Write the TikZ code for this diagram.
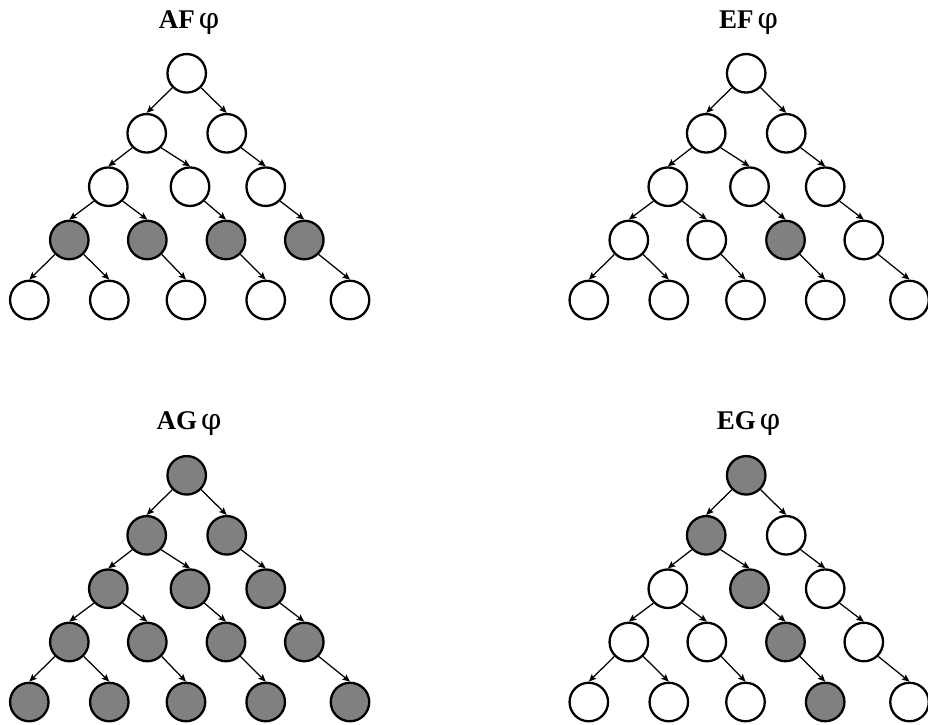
\documentclass[tikz,border=0pt]{standalone}
\usepackage{fontspec}
\setmainfont{Liberation Serif}
\newfontfamily\phifont{DejaVu Serif}
\usetikzlibrary{arrows.meta}
\definecolor{nodegray}{RGB}{128,128,128}
\tikzset{
  st/.style={circle,draw=black,line width=2.3pt,minimum size=38.5pt,inner sep=0pt,fill=white},
  sg/.style={st,fill=nodegray},
  ed/.style={line width=1.25pt,-{Stealth[length=7.5pt,width=6.5pt,inset=1.5pt]}},
  ttl/.style={anchor=base,inner sep=0pt,font=\fontsize{27}{30}\selectfont}
}
\newcommand\ttltext[1]{{\bfseries #1}\hspace{4pt}{\phifont\fontsize{29}{30}\selectfont φ}}
\newcommand\treeedges[1]{%
  \draw[ed] (#1r.-135) -- (#1a.north);
  \draw[ed] (#1r.-45) -- (#1b.north);
  \draw[ed] (#1a.-135) -- (#1c.north);
  \draw[ed] (#1a.-45) -- (#1d.north);
  \draw[ed] (#1b.-45) -- (#1e.north);
  \draw[ed] (#1c.-135) -- (#1f.north);
  \draw[ed] (#1c.-45) -- (#1g.north);
  \draw[ed] (#1d.-45) -- (#1h.north);
  \draw[ed] (#1e.-45) -- (#1i.north);
  \draw[ed] (#1f.-135) -- (#1j.north);
  \draw[ed] (#1f.-45) -- (#1k.north);
  \draw[ed] (#1g.-45) -- (#1l.north);
  \draw[ed] (#1h.-45) -- (#1m.north);
  \draw[ed] (#1i.-45) -- (#1n.north);
}
\begin{document}
\begin{tikzpicture}[x=1pt,y=-1pt]
\useasboundingbox (0,0) rectangle (928,724);
% ---------- AF ----------
\begin{scope}[shift={(0,0)}]
\node[ttl] (tAF) at (189,28.7) {\ttltext{AF}};
\node[st] (Pr) at (186.7,73.3) {};
\node[st] (Pa) at (146.7,133.3) {};
\node[st] (Pb) at (226.7,133.3) {};
\node[st] (Pc) at (108.3,186.7) {};
\node[st] (Pd) at (190,186.7) {};
\node[st] (Pe) at (265.7,186.7) {};
\node[sg] (Pf) at (69.3,240) {};
\node[sg] (Pg) at (147.3,240) {};
\node[sg] (Ph) at (226,240) {};
\node[sg] (Pi) at (304.3,240) {};
\node[st] (Pj) at (29.3,300) {};
\node[st] (Pk) at (109.3,300) {};
\node[st] (Pl) at (186,300) {};
\node[st] (Pm) at (265.7,300) {};
\node[st] (Pn) at (350,300) {};
\treeedges{P}
\end{scope}
% ---------- EF ----------
\begin{scope}[shift={(559.5,0)}]
\node[ttl] (tEF) at (189,28.7) {\ttltext{EF}};
\node[st] (Qr) at (186.7,73.3) {};
\node[st] (Qa) at (146.7,133.3) {};
\node[st] (Qb) at (226.7,133.3) {};
\node[st] (Qc) at (108.3,186.7) {};
\node[st] (Qd) at (190,186.7) {};
\node[st] (Qe) at (265.7,186.7) {};
\node[st] (Qf) at (69.3,240) {};
\node[st] (Qg) at (147.3,240) {};
\node[sg] (Qh) at (226,240) {};
\node[st] (Qi) at (304.3,240) {};
\node[st] (Qj) at (29.3,300) {};
\node[st] (Qk) at (109.3,300) {};
\node[st] (Ql) at (186,300) {};
\node[st] (Qm) at (265.7,300) {};
\node[st] (Qn) at (350,300) {};
\treeedges{Q}
\end{scope}
% ---------- AG ----------
\begin{scope}[shift={(0,402)}]
\node[ttl] (tAG) at (189,27.3) {\ttltext{AG}};
\node[sg] (Sr) at (186.7,73.3) {};
\node[sg] (Sa) at (146.7,133.3) {};
\node[sg] (Sb) at (226.7,133.3) {};
\node[sg] (Sc) at (108.3,186.7) {};
\node[sg] (Sd) at (190,186.7) {};
\node[sg] (Se) at (265.7,186.7) {};
\node[sg] (Sf) at (69.3,240) {};
\node[sg] (Sg) at (147.3,240) {};
\node[sg] (Sh) at (226,240) {};
\node[sg] (Si) at (304.3,240) {};
\node[sg] (Sj) at (29.3,300) {};
\node[sg] (Sk) at (109.3,300) {};
\node[sg] (Sl) at (186,300) {};
\node[sg] (Sm) at (265.7,300) {};
\node[sg] (Sn) at (350,300) {};
\treeedges{S}
\end{scope}
% ---------- EG ----------
\begin{scope}[shift={(559.5,402)}]
\node[ttl] (tEG) at (189,27.3) {\ttltext{EG}};
\node[sg] (Tr) at (186.7,73.3) {};
\node[sg] (Ta) at (146.7,133.3) {};
\node[st] (Tb) at (226.7,133.3) {};
\node[st] (Tc) at (108.3,186.7) {};
\node[sg] (Td) at (190,186.7) {};
\node[st] (Te) at (265.7,186.7) {};
\node[st] (Tf) at (69.3,240) {};
\node[st] (Tg) at (147.3,240) {};
\node[sg] (Th) at (226,240) {};
\node[st] (Ti) at (304.3,240) {};
\node[st] (Tj) at (29.3,300) {};
\node[st] (Tk) at (109.3,300) {};
\node[st] (Tl) at (186,300) {};
\node[sg] (Tm) at (265.7,300) {};
\node[st] (Tn) at (350,300) {};
\treeedges{T}
\end{scope}
\end{tikzpicture}
\end{document}
